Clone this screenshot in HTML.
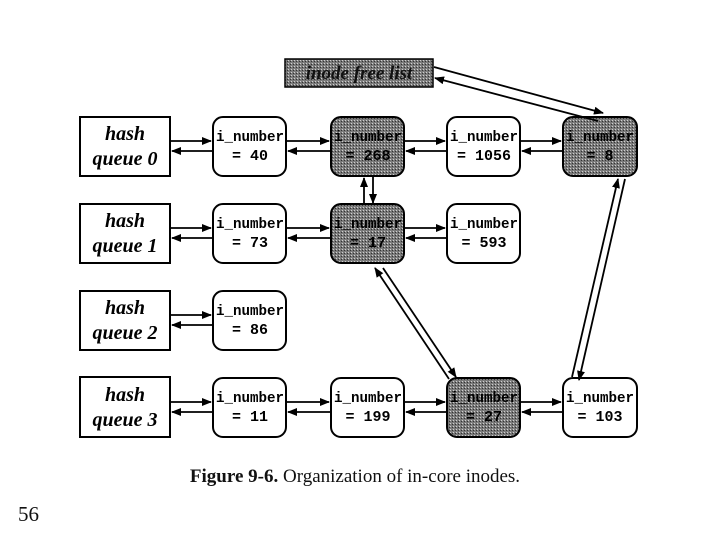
<!DOCTYPE html>
<html><head><style>
body{margin:0;width:720px;height:540px;background:#fff;overflow:hidden;position:relative;font-family:"Liberation Serif",serif}
</style></head><body>
<svg width="720" height="540" style="position:absolute;left:0;top:0">
<defs>
<pattern id="dots" width="3" height="3" patternUnits="userSpaceOnUse"><rect width="3" height="3" fill="#7a7a7a"/><rect width="1" height="1" fill="#cfcfcf"/><rect x="2" y="1" width="1" height="1" fill="#333"/></pattern>
<marker id="a" markerWidth="10" markerHeight="8" refX="9" refY="4" orient="auto" markerUnits="userSpaceOnUse"><path d="M0,0 L10,4 L0,8 z" fill="#000"/></marker>
</defs>
<rect x="285" y="59" width="148" height="28" fill="url(#dots)" stroke="#000" stroke-width="1.5"/>
<text x="359" y="79" font-size="19" font-style="italic" font-weight="bold" text-anchor="middle" fill="#111">inode free list</text>
<g stroke="#000" stroke-width="2" fill="#fff">
<rect x="80" y="117" width="90" height="59"/><rect x="80" y="204" width="90" height="59"/>
<rect x="80" y="291" width="90" height="59"/><rect x="80" y="377" width="90" height="60"/>
</g>
<g font-size="20" font-style="italic" font-weight="bold" text-anchor="middle" fill="#000">
<text x="125" y="140">hash</text><text x="125" y="165">queue 0</text>
<text x="125" y="227">hash</text><text x="125" y="252">queue 1</text>
<text x="125" y="314">hash</text><text x="125" y="339">queue 2</text>
<text x="125" y="401">hash</text><text x="125" y="426">queue 3</text>
</g>
<g stroke="#000" stroke-width="2">
<rect x="213" y="117" width="73" height="59" rx="10" fill="#fff"/>
<rect x="331" y="117" width="73" height="59" rx="10" fill="url(#dots)"/>
<rect x="447" y="117" width="73" height="59" rx="10" fill="#fff"/>
<rect x="563" y="117" width="74" height="59" rx="10" fill="url(#dots)"/>
<rect x="213" y="204" width="73" height="59" rx="10" fill="#fff"/>
<rect x="331" y="204" width="73" height="59" rx="10" fill="url(#dots)"/>
<rect x="447" y="204" width="73" height="59" rx="10" fill="#fff"/>
<rect x="213" y="291" width="73" height="59" rx="10" fill="#fff"/>
<rect x="213" y="378" width="73" height="59" rx="10" fill="#fff"/>
<rect x="331" y="378" width="73" height="59" rx="10" fill="#fff"/>
<rect x="447" y="378" width="73" height="59" rx="10" fill="url(#dots)"/>
<rect x="563" y="378" width="74" height="59" rx="10" fill="#fff"/>
</g>
<g font-family="Liberation Mono,monospace" font-weight="bold" font-size="15" text-anchor="middle" fill="#000">
<text x="250" y="141" textLength="68" lengthAdjust="spacingAndGlyphs">i_number</text><text x="250" y="160">= 40</text>
<text x="368" y="141" textLength="68" lengthAdjust="spacingAndGlyphs">i_number</text><text x="368" y="160">= 268</text>
<text x="484" y="141" textLength="68" lengthAdjust="spacingAndGlyphs">i_number</text><text x="484" y="160">= 1056</text>
<text x="600" y="141" textLength="68" lengthAdjust="spacingAndGlyphs">i_number</text><text x="600" y="160">= 8</text>
<text x="250" y="228" textLength="68" lengthAdjust="spacingAndGlyphs">i_number</text><text x="250" y="247">= 73</text>
<text x="368" y="228" textLength="68" lengthAdjust="spacingAndGlyphs">i_number</text><text x="368" y="247">= 17</text>
<text x="484" y="228" textLength="68" lengthAdjust="spacingAndGlyphs">i_number</text><text x="484" y="247">= 593</text>
<text x="250" y="315" textLength="68" lengthAdjust="spacingAndGlyphs">i_number</text><text x="250" y="334">= 86</text>
<text x="250" y="402" textLength="68" lengthAdjust="spacingAndGlyphs">i_number</text><text x="250" y="421">= 11</text>
<text x="368" y="402" textLength="68" lengthAdjust="spacingAndGlyphs">i_number</text><text x="368" y="421">= 199</text>
<text x="484" y="402" textLength="68" lengthAdjust="spacingAndGlyphs">i_number</text><text x="484" y="421">= 27</text>
<text x="600" y="402" textLength="68" lengthAdjust="spacingAndGlyphs">i_number</text><text x="600" y="421">= 103</text>
</g>
<g stroke="#000" stroke-width="1.8" marker-end="url(#a)">
<line x1="171" y1="141" x2="211" y2="141"/><line x1="212" y1="151" x2="172" y2="151"/>
<line x1="287" y1="141" x2="329" y2="141"/><line x1="330" y1="151" x2="288" y2="151"/>
<line x1="405" y1="141" x2="445" y2="141"/><line x1="446" y1="151" x2="406" y2="151"/>
<line x1="521" y1="141" x2="561" y2="141"/><line x1="562" y1="151" x2="522" y2="151"/>
<line x1="171" y1="228" x2="211" y2="228"/><line x1="212" y1="238" x2="172" y2="238"/>
<line x1="287" y1="228" x2="329" y2="228"/><line x1="330" y1="238" x2="288" y2="238"/>
<line x1="405" y1="228" x2="445" y2="228"/><line x1="446" y1="238" x2="406" y2="238"/>
<line x1="171" y1="315" x2="211" y2="315"/><line x1="212" y1="325" x2="172" y2="325"/>
<line x1="171" y1="402" x2="211" y2="402"/><line x1="212" y1="412" x2="172" y2="412"/>
<line x1="287" y1="402" x2="329" y2="402"/><line x1="330" y1="412" x2="288" y2="412"/>
<line x1="405" y1="402" x2="445" y2="402"/><line x1="446" y1="412" x2="406" y2="412"/>
<line x1="521" y1="402" x2="561" y2="402"/><line x1="562" y1="412" x2="522" y2="412"/>
<line x1="364" y1="204" x2="364" y2="178"/><line x1="373" y1="177" x2="373" y2="203"/>
<line x1="383" y1="268" x2="456" y2="377"/><line x1="449" y1="379" x2="375" y2="268"/>
<line x1="434" y1="67" x2="603" y2="113"/><line x1="598" y1="121" x2="435" y2="78"/>
<line x1="625" y1="179" x2="579" y2="380"/><line x1="572" y1="377" x2="618" y2="179"/>
</g>
</svg>
<div style="position:absolute;left:0;width:710px;top:466px;text-align:center;font-size:19px;color:#111"><b>Figure 9-6.</b> Organization of in-core inodes.</div>
<div style="position:absolute;left:18px;top:502px;font-size:21px;color:#111">56</div>
</body></html>
